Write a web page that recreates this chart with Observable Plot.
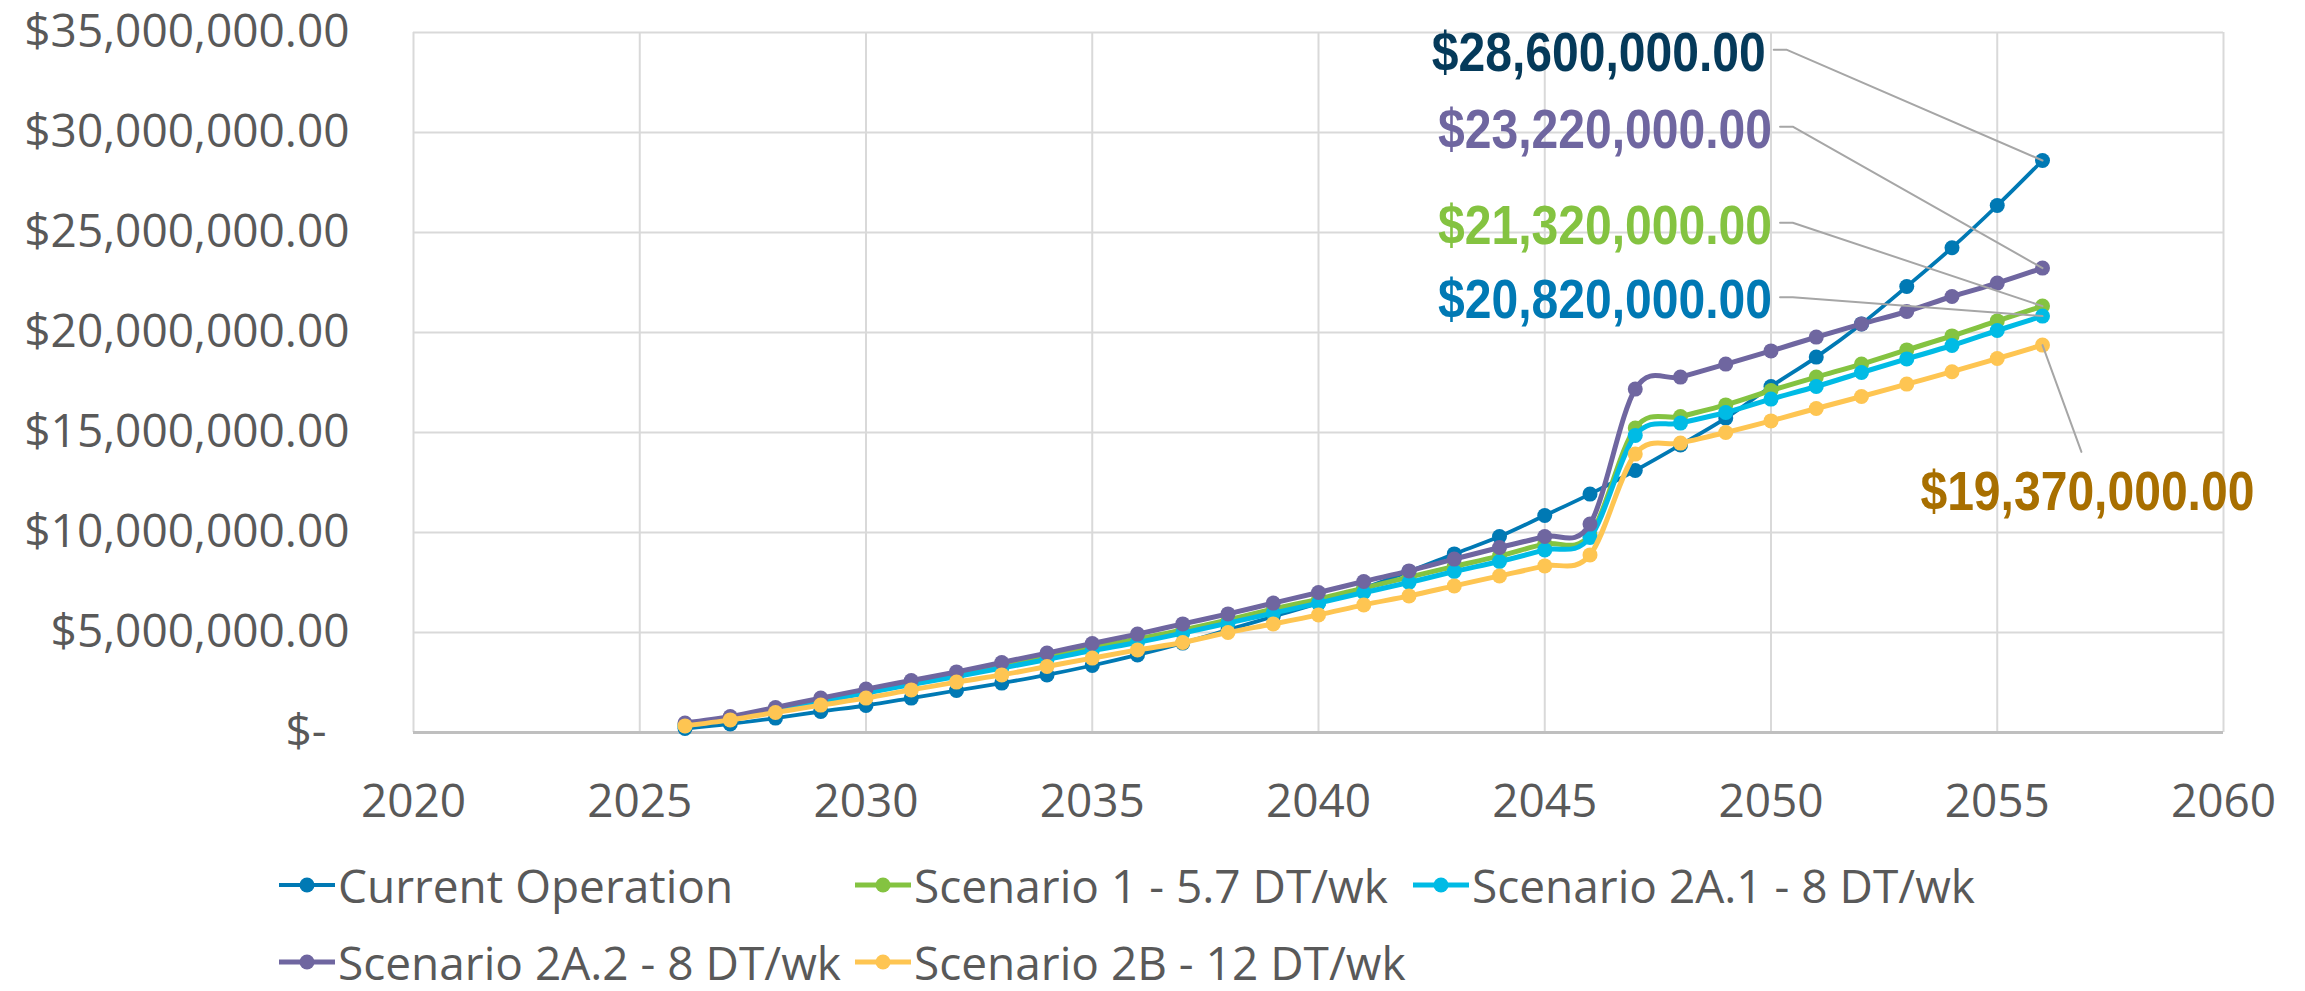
<!DOCTYPE html>
<html>
<head>
<meta charset="utf-8">
<script src="https://cdn.jsdelivr.net/npm/d3@7"></script>
<script src="https://cdn.jsdelivr.net/npm/@observablehq/plot@0.6"></script>
<style>
  html, body { margin: 0; padding: 0; background: #fff; }
  body { width: 2305px; height: 991px; overflow: hidden; font-family: "Open Sans", sans-serif; }
  #chart svg { display: block; }
  #legend { display: grid; grid-template-columns: 576px 558px auto; padding-left: 279px; padding-top: 7px; row-gap: 21px; }
  .item { display: flex; align-items: center; height: 56px; line-height: 56px; font-size: 46px; color: #595959; white-space: nowrap; }
  .item svg { flex: none; margin-right: 3px; }
</style>
</head>
<body>
<div id="chart"></div>
<div id="legend"></div>
<script>
// ---- data ----
const years = [2026, 2027, 2028, 2029, 2030, 2031, 2032, 2033, 2034, 2035, 2036,
               2037, 2038, 2039, 2040, 2041, 2042, 2043, 2044, 2045, 2046,
               2047, 2048, 2049, 2050, 2051, 2052, 2053, 2054, 2055, 2056];

const seriesNames = ["Current Operation", "Scenario 1 - 5.7 DT/wk", "Scenario 2A.1 - 8 DT/wk",
                     "Scenario 2A.2 - 8 DT/wk", "Scenario 2B - 12 DT/wk"];
const seriesColors = ["#0079B4", "#84C341", "#00BBE5", "#6F66A0", "#FEC552"];

// values in millions of dollars
const currentOperation = [0.20, 0.43, 0.72, 1.05, 1.35, 1.72, 2.10, 2.47, 2.88, 3.35, 3.88,
                          4.47, 5.13, 5.80, 6.47, 7.22, 8.05, 8.93, 9.80, 10.85, 11.92,
                          13.10, 14.38, 15.72, 17.30, 18.77, 20.43, 22.30, 24.24, 26.35, 28.60];
const scenario1 = [0.38, 0.75, 1.20, 1.62, 2.07, 2.50, 2.93, 3.38, 3.83, 4.25, 4.68,
                   5.13, 5.63, 6.17, 6.67, 7.22, 7.77, 8.30, 8.83, 9.43, 9.88,
                   15.22, 15.80, 16.38, 17.10, 17.77, 18.42, 19.13, 19.83, 20.58, 21.32];
const scenario2A1 = [0.33, 0.70, 1.12, 1.55, 1.98, 2.40, 2.80, 3.22, 3.65, 4.10, 4.50,
                     4.97, 5.47, 5.97, 6.47, 7.00, 7.50, 8.05, 8.55, 9.13, 9.75,
                     14.85, 15.47, 16.00, 16.67, 17.30, 18.00, 18.68, 19.35, 20.10, 20.82];
const scenario2A2 = [0.47, 0.80, 1.25, 1.72, 2.17, 2.60, 3.03, 3.50, 3.97, 4.45, 4.92,
                     5.43, 5.93, 6.47, 7.00, 7.55, 8.08, 8.67, 9.25, 9.80, 10.42,
                     17.17, 17.77, 18.42, 19.08, 19.77, 20.43, 21.05, 21.80, 22.47, 23.22];
const scenario2B = [0.33, 0.63, 1.00, 1.37, 1.72, 2.13, 2.52, 2.88, 3.30, 3.72, 4.13,
                    4.50, 5.00, 5.43, 5.88, 6.38, 6.83, 7.33, 7.83, 8.33, 8.88,
                    13.92, 14.47, 15.00, 15.58, 16.20, 16.80, 17.42, 18.04, 18.70, 19.37];

const xTicks = [2020, 2025, 2030, 2035, 2040, 2045, 2050, 2055, 2060];
const yTicks = [0, 5e6, 10e6, 15e6, 20e6, 25e6, 30e6, 35e6];

// end-of-series data labels (value in dollars)
const labelSeries = ["Current Operation", "Scenario 2A.2 - 8 DT/wk", "Scenario 1 - 5.7 DT/wk",
                     "Scenario 2A.1 - 8 DT/wk", "Scenario 2B - 12 DT/wk"];
const labelValues = [28600000, 23220000, 21320000, 20820000, 19370000];

// ---- build table ----
const valuesBySeries = [currentOperation, scenario1, scenario2A1, scenario2A2, scenario2B];
const rows = seriesNames.flatMap((s, i) =>
  years.map((yr, j) => ({series: s, year: yr, value: valuesBySeries[i][j] * 1e6})));

// label layout (anchor in data space, where the leader line leaves the label)
const labelLayout = {
  "Current Operation":       {ax: 2050.06, ay: 34.14e6, color: "#053A5A", side: "left"},
  "Scenario 2A.2 - 8 DT/wk": {ax: 2050.20, ay: 30.29e6, color: "#6F66A0", side: "left"},
  "Scenario 1 - 5.7 DT/wk":  {ax: 2050.20, ay: 25.49e6, color: "#84C341", side: "left"},
  "Scenario 2A.1 - 8 DT/wk": {ax: 2050.20, ay: 21.76e6, color: "#0079B4", side: "left"},
  "Scenario 2B - 12 DT/wk":  {ax: 2056.86, ay: 14.03e6, color: "#A86F00", side: "below"}
};
const lastYear = years[years.length - 1];
const labels = labelSeries.map((s, i) => ({series: s, value: labelValues[i], ...labelLayout[s]}));
const leaders = labels.flatMap(l => l.side === "left"
  ? [{id: l.series, x: l.ax, y: l.ay}, {id: l.series, x: l.ax + 0.28, y: l.ay}, {id: l.series, x: lastYear, y: l.value}]
  : [{id: l.series, x: lastYear, y: l.value}, {id: l.series, x: l.ax, y: l.ay}]);

const money = d => d === 0 ? "$-\u2002" : "$" + d3.format(",.2f")(d);
const colorOf = s => seriesColors[seriesNames.indexOf(s)];
const smooth = d3.curveCardinal.tension(0);

const seriesMarks = seriesNames.flatMap((s, i) => {
  const data = rows.filter(r => r.series === s);
  return [
    Plot.line(data, {x: "year", y: "value", stroke: colorOf(s), strokeWidth: i === 0 ? 3.8 : 5, curve: smooth}),
    Plot.dot(data, {x: "year", y: "value", fill: colorOf(s), r: 7.5, stroke: "none"})
  ];
});

const chart = Plot.plot({
  width: 2305,
  height: 850,
  marginLeft: 413,
  marginRight: 82,
  marginTop: 32,
  marginBottom: 118,
  style: {fontFamily: "'Open Sans', sans-serif", fontSize: "46px", color: "#595959", background: "#fff", overflow: "visible"},
  x: {domain: [2020, 2060], ticks: xTicks, tickFormat: d => String(d), tickSize: 0, tickPadding: 52, label: null},
  y: {domain: [0, 35e6], ticks: yTicks, tickFormat: money, tickSize: 0, tickPadding: 64, label: null},
  marks: [
    Plot.gridX(xTicks, {stroke: "#D9D9D9", strokeOpacity: 1, strokeWidth: 2}),
    Plot.gridY(yTicks, {stroke: "#D9D9D9", strokeOpacity: 1, strokeWidth: 2}),
    Plot.ruleY([0], {stroke: "#BFBFBF", strokeWidth: 3}),
    ...seriesMarks,
    Plot.line(leaders, {x: "x", y: "y", z: "id", stroke: "#A6A6A6", strokeWidth: 2}),
    Plot.text(labels.filter(l => l.side === "left"), {
      x: "ax", y: "ay", text: d => money(d.value), fill: "color",
      textAnchor: "end", lineAnchor: "middle", dx: -8, dy: 3,
      fontSize: 56, fontWeight: "bold", fontFamily: "'Liberation Sans Narrow', 'Liberation Sans', sans-serif",
      className: "dlabel"
    }),
    Plot.text(labels.filter(l => l.side === "below"), {
      x: "ax", y: "ay", text: d => money(d.value), fill: "color",
      textAnchor: "middle", lineAnchor: "middle", dx: 6, dy: 40,
      fontSize: 56, fontWeight: "bold", fontFamily: "'Liberation Sans Narrow', 'Liberation Sans', sans-serif",
      className: "dlabel"
    })
  ]
});
document.getElementById("chart").appendChild(chart);

// condense the bold data labels to the width they take in the original
d3.select(chart).selectAll(".dlabel text")
  .attr("textLength", 334)
  .attr("lengthAdjust", "spacingAndGlyphs");

// ---- legend ----
const legend = d3.select("#legend");
seriesNames.forEach((s, i) => {
  const item = legend.append("div").attr("class", "item");
  const sw = item.append("svg").attr("width", 56).attr("height", 20);
  sw.append("line").attr("x1", 0).attr("x2", 56).attr("y1", 10).attr("y2", 10)
    .attr("stroke", seriesColors[i]).attr("stroke-width", i === 0 ? 3.8 : 5);
  sw.append("circle").attr("cx", 28).attr("cy", 10).attr("r", 7.5).attr("fill", seriesColors[i]);
  item.append("span").text(s);
});
</script>
</body>
</html>
